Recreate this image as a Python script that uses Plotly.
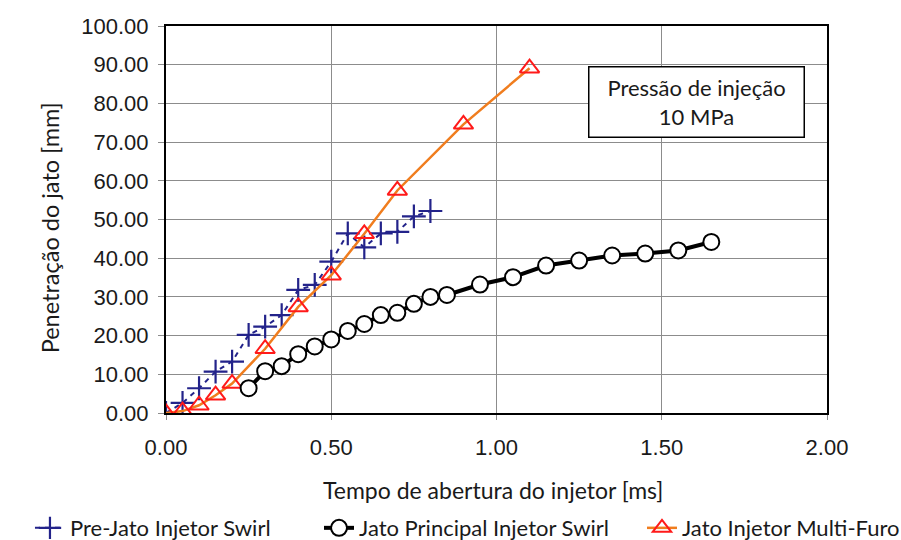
import plotly.graph_objects as go

# Pre-jet of the swirl injector
pre_t = [0.0, 0.05, 0.10, 0.15, 0.20, 0.25, 0.30, 0.35, 0.40, 0.45, 0.50, 0.55, 0.60, 0.65, 0.70, 0.75, 0.80]
pre_p = [0.0, 2.6, 6.4, 10.7, 13.3, 20.2, 22.3, 25.3, 31.8, 33.1, 39.1, 46.4, 42.8, 46.4, 46.8, 50.8, 52.2]

# Main jet of the swirl injector
main_t = [0.25, 0.30, 0.35, 0.40, 0.45, 0.50, 0.55, 0.60, 0.65, 0.70, 0.75, 0.80, 0.85,
          0.95, 1.05, 1.15, 1.25, 1.35, 1.45, 1.55, 1.65]
main_p = [6.4, 10.8, 12.1, 15.2, 17.2, 19.0, 21.2, 23.0, 25.3, 25.9, 28.2, 30.0, 30.5,
          33.2, 35.1, 38.1, 39.4, 40.7, 41.2, 42.0, 44.2]

# Multi-hole injector jet
multi_t = [0.0, 0.05, 0.10, 0.15, 0.20, 0.30, 0.40, 0.50, 0.60, 0.70, 0.90, 1.10]
multi_p = [0.0, 0.5, 2.0, 4.6, 7.6, 16.6, 27.4, 35.6, 46.3, 57.5, 74.6, 89.1]

x_ticks = [0.0, 0.5, 1.0, 1.5, 2.0]
y_ticks = list(range(0, 101, 10))

TXT = "#1a1a1a"
SANS = "Lato, Open Sans"
ARIAL = "Liberation Sans, Arial"

fig = go.Figure()

fig.add_trace(go.Scatter(
    x=pre_t, y=pre_p, mode="lines+markers", name="Pre-Jato Injetor Swirl",
    line=dict(color="#23238A", width=2, dash="5px,5px"),
    marker=dict(symbol="cross-thin-open", size=17, line=dict(color="#23238A", width=2.2)),
    legend="legend",
))
fig.add_trace(go.Scatter(
    x=multi_t, y=multi_p, mode="lines+markers", name="Jato Injetor Multi-Furo",
    line=dict(color="#F07D1E", width=2.5),
    marker=dict(symbol="triangle-up", size=17, color="rgba(255,255,255,0)",
                line=dict(color="#FF1A1A", width=2)),
    legend="legend3",
))
fig.add_trace(go.Scatter(
    x=main_t, y=main_p, mode="lines+markers", name="Jato Principal Injetor Swirl",
    line=dict(color="black", width=4),
    marker=dict(symbol="circle", size=16, color="white", line=dict(color="black", width=2)),
    legend="legend2",
))

fig.update_xaxes(
    range=[0, 2], tickvals=x_ticks, ticktext=[f"{v:.2f}" for v in x_ticks],
    showgrid=True, gridcolor="#8c8c8c", gridwidth=1,
    showline=True, linecolor="black", linewidth=2, mirror=True,
    ticks="outside", ticklen=5, tickcolor="#8c8c8c", ticklabelstandoff=9,
    tickfont=dict(family=ARIAL, size=22, color=TXT),
    zeroline=False, automargin=False,
)
fig.update_yaxes(
    range=[0, 100], tickvals=y_ticks, ticktext=[f"{v:.2f}" for v in y_ticks],
    showgrid=True, gridcolor="#8c8c8c", gridwidth=1,
    showline=True, linecolor="black", linewidth=2, mirror=True,
    ticks="outside", ticklen=6, tickcolor="#8c8c8c", ticklabelstandoff=5,
    tickfont=dict(family=ARIAL, size=22, color=TXT),
    zeroline=False, automargin=False,
)

fig.add_annotation(
    text="Tempo de abertura do injetor [ms]", xref="paper", yref="paper",
    x=0.495, y=-0.2, xanchor="center", yanchor="middle", showarrow=False,
    font=dict(family=SANS, size=23, color=TXT),
)
fig.add_annotation(
    text="Penetração do jato [mm]", xref="paper", yref="paper",
    x=-0.175, y=0.478, xanchor="center", yanchor="middle", showarrow=False, textangle=-90,
    font=dict(family=SANS, size=23.5, color=TXT),
)
fig.add_annotation(
    text="Pressão de injeção<br>10 MPa", xref="paper", yref="paper",
    x=0.8026, y=0.8036, xanchor="center", yanchor="middle", showarrow=False,
    font=dict(family=SANS, size=22, color=TXT),
    bgcolor="white", bordercolor="black", borderwidth=1.5,
    width=212, height=67,
)

legend_style = dict(
    orientation="h", y=-0.243, xanchor="left", yanchor="top",
    font=dict(family=SANS, size=22, color=TXT), itemwidth=30,
    bgcolor="rgba(0,0,0,0)",
)

fig.update_layout(
    width=901, height=540,
    margin=dict(l=166, r=74, t=26, b=127, autoexpand=False),
    paper_bgcolor="white", plot_bgcolor="white",
    showlegend=True,
    legend=dict(x=-0.2058, **legend_style),
    legend2=dict(x=0.2315, **legend_style),
    legend3=dict(x=0.7201, **legend_style),
)

fig.write_html("out.html")
